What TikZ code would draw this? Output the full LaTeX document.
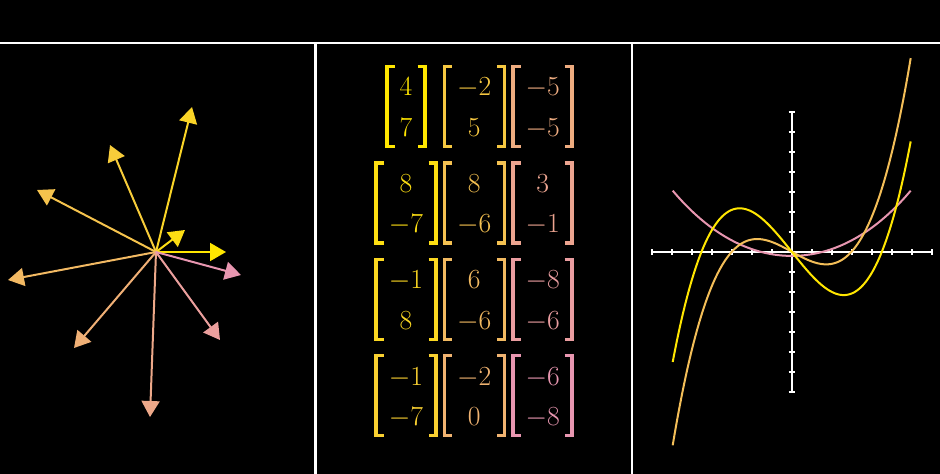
\documentclass[tikz,border=0pt]{standalone}
\usetikzlibrary{arrows.meta}
\definecolor{tintA}{HTML}{FFE600}
\definecolor{tintB}{HTML}{E896B0}
\begin{document}
\begin{tikzpicture}[
    x=0.75pt,y=-0.75pt,
    rule/.style={draw=white,line width=1.6pt},
    vec/.style={line width=1.5pt,-{Triangle[length=12pt,width=13.5pt]}},
    brk/.style={line width=2.6pt},
    ent/.style={anchor=base,inner sep=0pt,font=\fontsize{20}{22}\selectfont},
    axis/.style={draw=white,line width=1.5pt},
    tick/.style={draw=white,line width=1.5pt},
    crv/.style={line width=1.5pt,smooth,samples=150}
  ]
  \useasboundingbox (0,0) rectangle (940,474);
  %% black page and the three panels
  \fill[black] (0,0) rectangle (940,474);
  \coordinate (top0) at (0,43);
  \coordinate (top1) at (940,43);
  \coordinate (sepA) at (315.5,43);
  \coordinate (sepAb) at (315.5,474);
  \coordinate (sepB) at (632,43);
  \coordinate (sepBb) at (632,474);
  \draw[rule] (top0) -- (top1);
  \draw[rule] (sepA) -- (sepAb);
  \draw[rule] (sepB) -- (sepBb);
  %% vectors from one origin, yellow round to pink
  \coordinate (O) at (156,252);
  \foreach \n/\x/\y/\p in {va/226/252/100,vb/185/230/89,vc/192/107/78,vd/110/145/67,ve/37/190/56,
                           vf/8/280/44,vg/74/348/33,vh/150/417/22,vi/220/340/11,vj/241/275/0}{
    \coordinate (\n) at (\x,\y);
    \draw[vec,color=tintA!\p!tintB] (O) -- (\n);
  }
  %% column vectors, coloured down the columns
  \foreach \c/\r/\a/\b/\w in {0/0/4/7/20.5,0/1/8/-7/31.5,0/2/-1/8/31.5,0/3/-1/-7/31.5,
                              1/0/-2/5/31.5,1/1/8/-6/31.5,1/2/6/-6/31.5,1/3/-2/0/31.5,
                              2/0/-5/-5/31,2/1/3/-1/31,2/2/-8/-6/31,2/3/-6/-8/31}{
    \pgfmathsetmacro\mx{406+68.3*\c}
    \pgfmathsetmacro\my{65+96.4*\r}
    \pgfmathtruncatemacro\p{100-(4*\c+\r)*100/11}
    \begin{scope}[color=tintA!\p!tintB]
      \draw[brk] (\mx-\w+9,\my+1.5) -- (\mx-\w+1.5,\my+1.5) -- (\mx-\w+1.5,\my+81.5) -- (\mx-\w+9,\my+81.5);
      \draw[brk] (\mx+\w-9,\my+1.5) -- (\mx+\w-1.5,\my+1.5) -- (\mx+\w-1.5,\my+81.5) -- (\mx+\w-9,\my+81.5);
      \node[ent] (m\c\r-a) at (\mx,\my+31) {$\a$};
      \node[ent] (m\c\r-b) at (\mx,\my+71.5) {$\b$};
    \end{scope}
  }
  %% axes with unit ticks and three curves
  \begin{scope}[shift={(791.7,251.7)},x=15pt,y=15pt]
    \draw[axis] (-7,0) -- (7,0);
    \draw[axis] (0,-7) -- (0,7);
    \foreach \k in {-7,...,7}{
      \draw[tick] (\k,-0.15) -- (\k,0.15);
      \draw[tick] (-0.15,\k) -- (0.15,\k);
    }
    \draw[crv,color=tintB] plot[domain=-5.95:5.95] (\x,{0.0846*\x*\x+0.00022*\x*\x*\x*\x-0.21});
    \draw[crv,color=tintA!50!tintB] plot[domain=-5.95:5.95] (\x,{0.0615*\x*\x*\x-0.55*\x});
    \draw[crv,color=tintA] plot[domain=-5.95:5.95] (\x,{0.0615*\x*\x*\x-1.25*\x});
  \end{scope}
\end{tikzpicture}
\end{document}
